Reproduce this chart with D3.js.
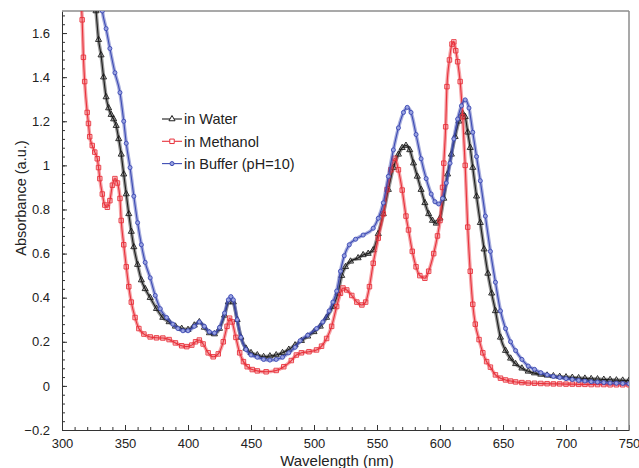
<!DOCTYPE html>
<html>
<head>
<meta charset="utf-8">
<script src="https://cdn.jsdelivr.net/npm/d3@7"></script>
<style>
body { margin: 0; background: #fff; }
text { font-family: "Liberation Sans", Arial, sans-serif; fill: #222; }
</style>
</head>
<body>
<div id="chartDiv"></div>
<script>
// wavelength (nm), absorbance (a.u.)
var waterData = [
    [325,1.80],[327,1.70],[329,1.57],[331,1.50],[333,1.40],[335,1.31],[337,1.26],[339,1.23],
    [341,1.21],[343,1.18],[345,1.12],[347,1.05],[349,0.96],[351,0.87],[353,0.78],[355,0.70],
    [357,0.63],[360,0.55],[363,0.48],[366,0.44],[370,0.40],[375,0.35],[380,0.31],[385,0.29],
    [390,0.27],[395,0.26],[400,0.255],[405,0.275],[409,0.29],[413,0.265],[417,0.24],[421,0.235],
    [425,0.26],[429,0.32],[432,0.38],[434,0.395],[436,0.38],[439,0.30],[442,0.22],[446,0.17],
    [450,0.15],[455,0.14],[460,0.132],[465,0.135],[470,0.14],[475,0.15],[480,0.165],[485,0.185],
    [490,0.205],[495,0.225],[500,0.245],[505,0.27],[510,0.31],[515,0.36],[519,0.42],[522,0.50],
    [525,0.54],[529,0.565],[535,0.58],[539,0.594],[543,0.60],[547,0.616],[551,0.69],[555,0.78],
    [559,0.89],[563,0.99],[567,1.05],[570,1.08],[573,1.09],[576,1.07],[579,1.01],[582,0.95],
    [585,0.89],[588,0.83],[591,0.78],[594,0.75],[597,0.737],[600,0.76],[603,0.85],[606,0.96],
    [609,1.05],[612,1.13],[615,1.20],[618,1.236],[620,1.22],[622,1.15],[624,1.08],[626,0.99],
    [629,0.86],[632,0.74],[635,0.62],[638,0.51],[641,0.42],[644,0.34],[648,0.22],[652,0.16],
    [656,0.125],[660,0.10],[665,0.08],[670,0.066],[675,0.058],[680,0.052],[685,0.048],[690,0.045],
    [695,0.042],[700,0.04],[705,0.038],[710,0.036],[715,0.034],[720,0.032],[725,0.031],[730,0.029],
    [735,0.028],[740,0.026],[745,0.025],[750,0.024]
];
var methanolData = [
    [314,1.80],[316,1.66],[317,1.49],[318,1.38],[320,1.24],[321,1.19],[322,1.13],[324,1.09],
    [326,1.06],[328,1.03],[329,0.99],[330,0.94],[332,0.87],[334,0.82],[336,0.81],[338,0.84],
    [340,0.91],[342,0.94],[344,0.92],[346,0.85],[347,0.75],[349,0.64],[351,0.54],[353,0.45],
    [355,0.38],[358,0.31],[361,0.26],[365,0.235],[370,0.222],[375,0.218],[380,0.217],[385,0.21],
    [390,0.195],[395,0.182],[399,0.178],[403,0.185],[406,0.20],[409,0.208],[412,0.19],[416,0.15],
    [420,0.132],[424,0.145],[428,0.20],[431,0.27],[433,0.307],[435,0.29],[438,0.22],[441,0.15],
    [444,0.11],[447,0.087],[451,0.074],[455,0.068],[462,0.064],[470,0.07],[476,0.087],[482,0.115],
    [486,0.14],[490,0.15],[496,0.155],[502,0.163],[506,0.18],[510,0.215],[514,0.27],[518,0.36],
    [521,0.42],[523,0.444],[526,0.435],[530,0.41],[534,0.38],[538,0.367],[541,0.38],[544,0.45],
    [547,0.556],[551,0.67],[555,0.78],[558,0.89],[561,0.98],[564,1.032],[567,0.98],[570,0.888],
    [573,0.77],[575,0.707],[578,0.61],[581,0.54],[584,0.50],[588,0.488],[591,0.52],[595,0.60],
    [598,0.68],[600,0.75],[602,0.90],[603,1.01],[604.5,1.175],[605.5,1.357],[607.5,1.478],
    [609.5,1.55],[611,1.56],[612.5,1.52],[614,1.47],[616,1.38],[618,1.22],[620,1.00],[622,0.72],
    [624,0.52],[626,0.37],[628,0.28],[631,0.21],[634,0.15],[637,0.11],[640,0.085],[644,0.05],
    [648,0.035],[652,0.027],[656,0.022],[660,0.018],[665,0.015],[670,0.013],[675,0.012],[680,0.011],
    [685,0.01],[690,0.009],[695,0.009],[700,0.008],[705,0.008],[710,0.007],[715,0.007],[720,0.006],
    [725,0.006],[730,0.006],[735,0.005],[740,0.005],[745,0.005],[750,0.005]
];
var bufferData = [
    [330,1.80],[332,1.70],[335,1.62],[338,1.53],[342,1.42],[346,1.33],[349,1.20],[351,1.10],
    [354,0.99],[357,0.86],[360,0.74],[363,0.64],[366,0.56],[370,0.49],[374,0.41],[378,0.35],
    [383,0.31],[388,0.28],[392,0.26],[396,0.25],[400,0.25],[405,0.27],[409,0.29],[413,0.27],
    [417,0.245],[421,0.24],[425,0.265],[429,0.33],[432,0.39],[434,0.405],[436,0.39],[439,0.30],
    [442,0.22],[446,0.165],[450,0.14],[455,0.13],[460,0.12],[465,0.117],[470,0.12],[475,0.13],
    [480,0.15],[485,0.175],[489,0.205],[495,0.23],[502,0.26],[507,0.29],[512,0.34],[515,0.38],
    [518,0.43],[521,0.52],[524,0.59],[528,0.64],[533,0.665],[539,0.684],[547,0.715],[551,0.76],
    [555,0.83],[559,0.95],[563,1.07],[567,1.17],[571,1.24],[574,1.263],[577,1.24],[581,1.14],
    [585,1.03],[589,0.94],[593,0.87],[596,0.835],[599,0.825],[602,0.85],[605,0.92],[608,1.01],
    [611,1.12],[614,1.21],[617,1.27],[620,1.297],[623,1.26],[626,1.15],[629,1.04],[632,0.93],
    [636,0.77],[640,0.61],[644,0.47],[648,0.34],[652,0.26],[656,0.20],[660,0.16],[665,0.12],
    [670,0.09],[675,0.075],[680,0.06],[685,0.05],[690,0.043],[695,0.038],[700,0.033],[705,0.029],
    [710,0.025],[715,0.022],[720,0.019],[725,0.017],[730,0.015],[735,0.013],[740,0.012],[745,0.011],
    [750,0.01]
];
var seriesNames = ["in Water", "in Methanol", "in Buffer (pH=10)"];
var xTicks = [300, 350, 400, 450, 500, 550, 600, 650, 700, 750];
var yTicks = [-0.2, 0, 0.2, 0.4, 0.6, 0.8, 1, 1.2, 1.4, 1.6];

var margin = {top: 11, right: 10, bottom: 38, left: 62};
var swidth = 639, sheight = 468;
var width = swidth - margin.left - margin.right,
    height = sheight - margin.top - margin.bottom;

var svg = d3.select("#chartDiv")
    .append("svg")
    .attr("width", swidth)
    .attr("height", sheight);
var g = svg.append("g")
    .attr("transform", "translate(" + margin.left + "," + margin.top + ")");

var x = d3.scaleLinear().domain([300, 750]).range([0, width]);
var y = d3.scaleLinear().domain([-0.2, 1.7]).range([height, 0]);

// minor ticks
g.append("g")
    .attr("transform", "translate(0," + height + ")")
    .call(d3.axisBottom(x).tickValues(d3.range(300, 751, 10)).tickSizeInner(-3).tickSizeOuter(0).tickFormat(""))
    .call(s => s.select(".domain").remove());
g.append("g")
    .call(d3.axisLeft(y).tickValues(d3.range(-0.2, 1.7, 0.04)).tickSizeInner(-3).tickSizeOuter(0).tickFormat(""))
    .call(s => s.select(".domain").remove());

var xAxis = g.append("g")
    .attr("transform", "translate(0," + height + ")")
    .call(d3.axisBottom(x).tickValues(xTicks).tickSizeInner(-5).tickSizeOuter(0).tickPadding(9));
var yAxis = g.append("g")
    .call(d3.axisLeft(y).tickValues(yTicks).tickSizeInner(-5).tickSizeOuter(0).tickPadding(12)
        .tickFormat(d => d3.format("")(+d.toFixed(1))));
g.selectAll(".tick text").style("font-size", "13px").style("font-family", '"Liberation Sans", Arial, sans-serif').attr("fill", "#222");
g.selectAll(".tick line, .domain").attr("stroke", "#333");

// gray frame on top and right
g.append("line").attr("x1", 0).attr("x2", width).attr("y1", 0).attr("y2", 0)
    .attr("stroke", "#8c8c8c").attr("stroke-width", 1.5);
g.append("line").attr("x1", width).attr("x2", width).attr("y1", 0).attr("y2", height)
    .attr("stroke", "#8c8c8c").attr("stroke-width", 1.5);

g.append("clipPath").attr("id", "plotClip")
    .append("rect").attr("width", width).attr("height", height);

var series = [
    {name: seriesNames[0], data: waterData, color: "#1c1c1c", symbol: d3.symbolTriangle, size: 16, fill: "none"},
    {name: seriesNames[1], data: methanolData, color: "#e8323c", symbol: d3.symbolSquare, size: 20, fill: "none"},
    {name: seriesNames[2], data: bufferData, color: "#3d4bb4", symbol: d3.symbolCircle, size: 13, fill: "#9aa3e0"}
];

var line = d3.line()
    .x(d => x(d[0]))
    .y(d => y(d[1]))
    .curve(d3.curveMonotoneX);

var plot = g.append("g").attr("clip-path", "url(#plotClip)");

series.forEach(function(s) {
    // soft band where the dense markers overlap
    plot.append("path")
        .datum(s.data)
        .attr("fill", "none")
        .attr("stroke", s.color)
        .attr("stroke-opacity", 0.45)
        .attr("stroke-width", 3.6)
        .attr("stroke-linejoin", "round")
        .attr("d", line);
    plot.append("path")
        .datum(s.data)
        .attr("fill", "none")
        .attr("stroke", s.color)
        .attr("stroke-width", 1.1)
        .attr("d", line);
    plot.selectAll(null)
        .data(s.data)
        .enter().append("path")
        .attr("d", d3.symbol().type(s.symbol).size(s.size))
        .attr("transform", d => "translate(" + x(d[0]) + "," + y(d[1]) + ")")
        .attr("fill", s.fill)
        .attr("stroke", s.color)
        .attr("stroke-width", 0.9);
});

// legend
var legend = g.append("g").attr("transform", "translate(100,108)");
series.forEach(function(s, i) {
    var row = legend.append("g").attr("transform", "translate(0," + (i * 22.3) + ")");
    row.append("line").attr("x1", 0).attr("x2", 20).attr("stroke", s.color).attr("stroke-width", 1.1);
    row.append("path")
        .attr("d", d3.symbol().type(s.symbol).size(s.size))
        .attr("transform", "translate(10,0)")
        .attr("fill", s.fill === "none" ? "#fff" : s.fill)
        .attr("stroke", s.color);
    row.append("text")
        .attr("x", 22)
        .attr("dy", "0.36em")
        .style("font-size", "14.5px")
        .text(s.name);
});

// axis titles
svg.append("text")
    .attr("x", 337)
    .attr("y", 466)
    .attr("text-anchor", "middle")
    .style("font-size", "15px")
    .text("Wavelength (nm)");
svg.append("text")
    .attr("transform", "translate(26,198)rotate(-90)")
    .attr("text-anchor", "middle")
    .style("font-size", "14.5px")
    .text("Absorbance (a.u.)");
</script>
</body>
</html>
